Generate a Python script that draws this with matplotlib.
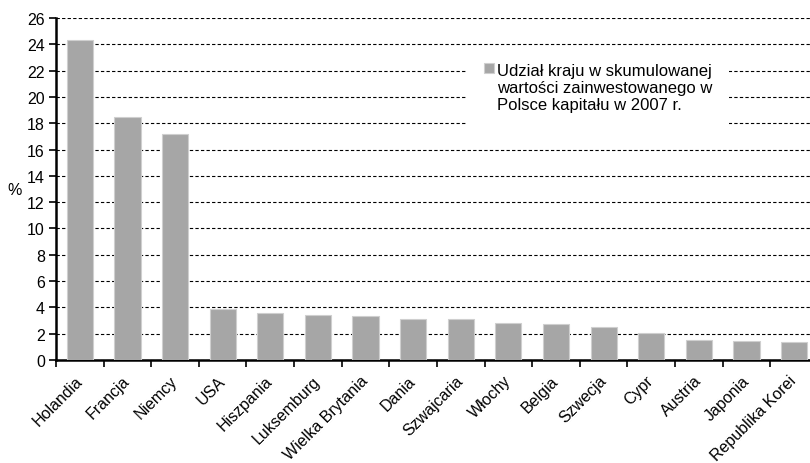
import matplotlib
matplotlib.use('Agg')
import matplotlib.pyplot as plt
import numpy as np

plt.rcParams['font.family'] = ['Liberation Sans', 'DejaVu Sans']

countries = ['Holandia', 'Francja', 'Niemcy', 'USA', 'Hiszpania', 'Luksemburg',
             'Wielka Brytania', 'Dania', 'Szwajcaria', 'Włochy', 'Belgia',
             'Szwecja', 'Cypr', 'Austria', 'Japonia', 'Republika Korei']
shares = [24.35, 18.5, 17.15, 3.9, 3.55, 3.42, 3.32, 3.1, 3.08, 2.81, 2.72,
          2.48, 2.04, 1.52, 1.45, 1.37]
series_label = 'Udział kraju w skumulowanej\nwartości zainwestowanego w\nPolsce kapitału w 2007 r.'
yticks = list(range(0, 27, 2))

fig = plt.figure(figsize=(8.1, 4.64), dpi=100)
ax = fig.add_axes([0.0691, 0.222, 0.9407, 0.737])

x = np.arange(len(countries))
ax.bar(x, shares, width=0.55, color='#a6a6a6', edgecolor='#cfcfcf',
       linewidth=0.8, label=series_label, zorder=3)

ax.set_xlim(-0.5, len(countries) - 0.5)
ax.set_ylim(0, 26)
ax.set_yticks(yticks)
ax.tick_params(axis='y', labelsize=11.5, direction='out', length=5, width=1.2, pad=3)

# category ticks sit between the bars
ax.set_xticks(np.arange(len(countries) + 1) - 0.5)
ax.set_xticklabels([])
ax.set_xticks(x, minor=True)
ax.set_xticklabels(countries, minor=True, rotation=45, ha='right',
                   va='center', rotation_mode='anchor', fontsize=11.5)
ax.tick_params(axis='x', which='major', direction='out', length=5, width=1.2)
ax.tick_params(axis='x', which='minor', length=0, pad=13)
for lbl in ax.xaxis.get_minorticklabels():
    lbl.set_x(lbl.get_position()[0])

ax.grid(axis='y', color='black', linestyle=(0, (3, 2)), linewidth=0.8)
ax.set_axisbelow(True)

for side in ['top', 'right']:
    ax.spines[side].set_visible(False)
for side in ['left', 'bottom']:
    ax.spines[side].set_linewidth(1.8)

ax.set_ylabel('%', rotation=0, fontsize=11.5, va='center', ha='center')
ax.yaxis.set_label_coords(-0.054, 0.5)

leg = ax.legend(loc='upper left', bbox_to_anchor=(467 / 810, 1 - 47 / 464),
                bbox_transform=fig.transFigure, fontsize=12, frameon=True,
                fancybox=False, handlelength=0.6, handleheight=0.6,
                handletextpad=0.2, borderpad=1.0, borderaxespad=0)
leg.get_frame().set_edgecolor('none')
leg.get_frame().set_facecolor('white')
leg.get_frame().set_alpha(1)
for t in leg.get_texts():
    t.set_linespacing(1.2)
# put the colour box next to the first line of the label
try:
    for col in leg._legend_handle_box.get_children():
        for row in col.get_children():
            row.align = 'top'
except AttributeError:
    pass

fig.savefig('out.png', dpi=100)
